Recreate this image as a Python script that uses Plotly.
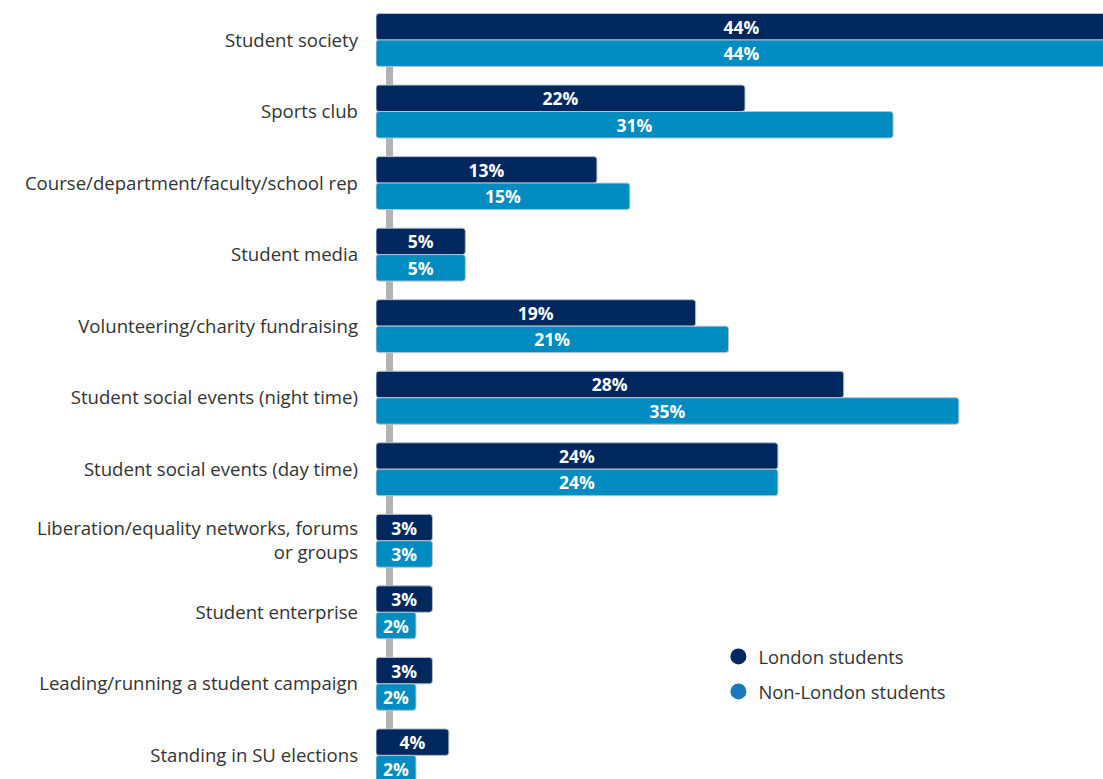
import plotly.graph_objects as go

categories = [
    "Student society",
    "Sports club",
    "Course/department/faculty/school rep",
    "Student media",
    "Volunteering/charity fundraising",
    "Student social events (night time)",
    "Student social events (day time)",
    "Liberation/equality networks, forums<br>or groups",
    "Student enterprise",
    "Leading/running a student campaign",
    "Standing in SU elections",
]
london = [44, 22, 13, 5, 19, 28, 24, 3, 3, 3, 4]
non_london = [44, 31, 15, 5, 21, 35, 24, 3, 2, 2, 2]
series_names = ["London students", "Non-London students"]

DARK = "#00285E"
LIGHT = "#008CC0"
LEGEND_LIGHT = "#1A79BD"
BASE = -0.43  # bars start slightly left of zero (style)
FONT = "Open Sans"

fig = go.Figure()
for name, vals, col in [(series_names[0], london, DARK), (series_names[1], non_london, LIGHT)]:
    fig.add_trace(go.Bar(
        y=categories, x=[v - BASE for v in vals], base=BASE, orientation="h", name=name,
        marker=dict(color=col, cornerradius=3, line=dict(color="#b8c2cc", width=1)),
        text=[f"{v}%" for v in vals], textposition="inside", insidetextanchor="middle",
        textangle=0, constraintext="none",
        textfont=dict(family=FONT, size=17.5, color="white", weight="bold"),
        showlegend=False, cliponaxis=True, hoverinfo="skip",
    ))

for i, (name, col) in enumerate([(series_names[0], DARK), (series_names[1], LEGEND_LIGHT)]):
    fig.add_trace(go.Scatter(x=[None], y=[None], mode="markers", name=name, legendgroup=f"g{i}",
                             marker=dict(color=col, size=17, symbol="circle")))

fig.add_shape(type="line", xref="x", yref="y", x0=0.39, x1=0.39, y0=0, y1=10.4,
              line=dict(color="#b3b3b3", width=7), layer="below")

W, H = 1103, 779
fig.update_layout(
    width=W, height=H,
    margin=dict(l=376, r=0, t=0, b=0),
    paper_bgcolor="white", plot_bgcolor="white",
    barmode="group", bargap=0.26, bargroupgap=0,
    font=dict(family=FONT, size=18, color="#333333"),
    xaxis=dict(range=[BASE, 43.76], visible=False, showgrid=False, zeroline=False),
    yaxis=dict(range=[10.33, -0.559], showgrid=False, zeroline=False, showline=False,
               ticks="", ticklabelstandoff=17,
               tickfont=dict(family=FONT, size=18.6, color="#333333")),
    legend=dict(x=0.471, y=1 - 638 / H, xanchor="left", yanchor="top", bgcolor="rgba(0,0,0,0)",
                font=dict(family=FONT, size=18.4, color="#333333"), itemwidth=30,
                tracegroupgap=8),
)

fig.write_html("out.html", config={"displayModeBar": False},
               post_script="document.body.style.margin='0';document.body.style.overflow='hidden';")
